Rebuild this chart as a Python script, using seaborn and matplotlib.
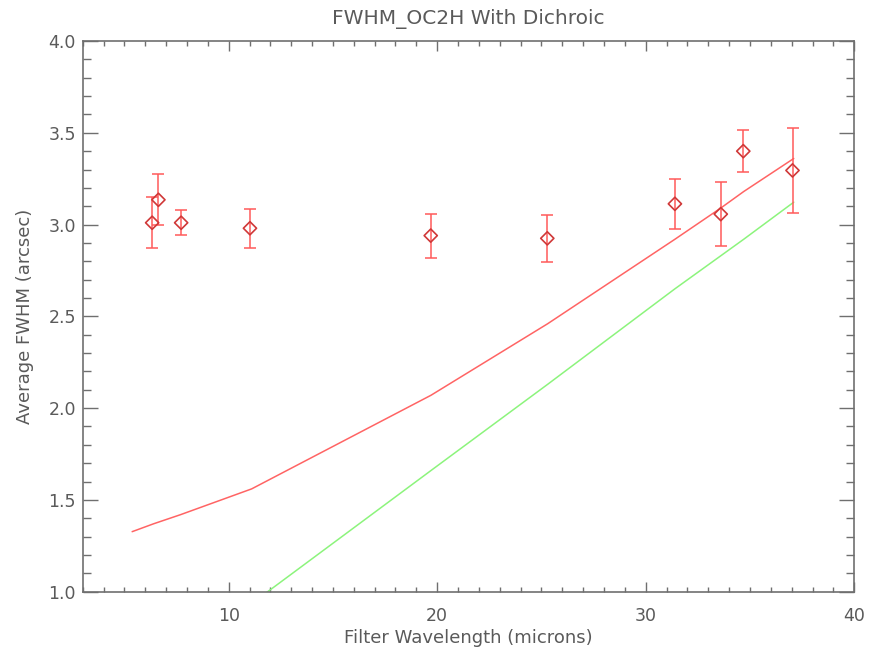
from matplotlib import pyplot as plt
from matplotlib.ticker import MultipleLocator
import pandas as pd
import seaborn as sns

# measured FWHM per filter
wave = [6.33, 6.63, 7.72, 11.02, 19.69, 25.28, 31.40, 33.60, 34.68, 37.04]
fwhm = [3.01, 3.135, 3.01, 2.98, 2.94, 2.925, 3.113, 3.057, 3.40, 3.295]
fwhm_err = [0.14, 0.138, 0.068, 0.105, 0.12, 0.127, 0.137, 0.175, 0.113, 0.232]

# model curves
model_wave = [5.37, 6.4, 7.7, 11.1, 19.7, 25.3, 31.4, 33.6, 34.7, 37.1]
model_total = [1.327, 1.37, 1.42, 1.56, 2.07, 2.46, 2.92, 3.09, 3.18, 3.36]
model_diff = [0.455, 0.54, 0.65, 0.935, 1.66, 2.13, 2.65, 2.83, 2.92, 3.122]

df = pd.DataFrame({'wave': wave, 'fwhm': fwhm, 'err': fwhm_err})
df_model = pd.DataFrame({'wave': model_wave, 'total': model_total, 'diff': model_diff})

sns.set_style('ticks')
grey = '#6f6f6f'
txt = '#5a5a5a'
plt.rcParams['font.family'] = ['DejaVu Sans']

f = plt.figure(figsize=(8.69, 6.49), dpi=100)
ax = f.add_axes([0.0952, 0.0883, 0.8878, 0.8485])

sns.lineplot(data=df_model, x='wave', y='total', ax=ax, color='#ff6464', lw=1.1)
sns.lineplot(data=df_model, x='wave', y='diff', ax=ax, color='#8cf47c', lw=1.1)

ax.errorbar(df['wave'], df['fwhm'], yerr=df['err'], fmt='none',
            ecolor='#ff5a5a', elinewidth=1.1, capsize=4, capthick=1.1)
sns.scatterplot(data=df, x='wave', y='fwhm', ax=ax, marker='D', s=45,
                facecolor='none', edgecolor='#d03838', linewidth=1.2, zorder=5)

ax.set_xlim(3, 40)
ax.set_ylim(1.0, 4.0)
ax.xaxis.set_major_locator(MultipleLocator(10))
ax.xaxis.set_minor_locator(MultipleLocator(1))
ax.yaxis.set_major_locator(MultipleLocator(0.5))
ax.yaxis.set_minor_locator(MultipleLocator(0.1))
ax.yaxis.set_major_formatter(plt.FormatStrFormatter('%.1f'))

ax.tick_params(axis='both', which='both', direction='in', top=True, right=True,
               color=grey, labelcolor=txt, labelsize=12.5, width=1)
ax.tick_params(axis='x', which='major', length=7.2, pad=11)
ax.tick_params(axis='x', which='minor', length=3.6)
ax.tick_params(axis='y', which='major', length=10.8, pad=5)
ax.tick_params(axis='y', which='minor', length=5.8)
for s in ax.spines.values():
    s.set_color(grey)
    s.set_linewidth(1.2)

ax.set_title('FWHM_OC2H With Dichroic', color=txt, fontsize=14.5, pad=12)
ax.set_xlabel('Filter Wavelength (microns)', color=txt, fontsize=13, labelpad=3)
ax.set_ylabel('Average FWHM (arcsec)', color=txt, fontsize=13, labelpad=10)

plt.savefig('out.png', dpi=100)
